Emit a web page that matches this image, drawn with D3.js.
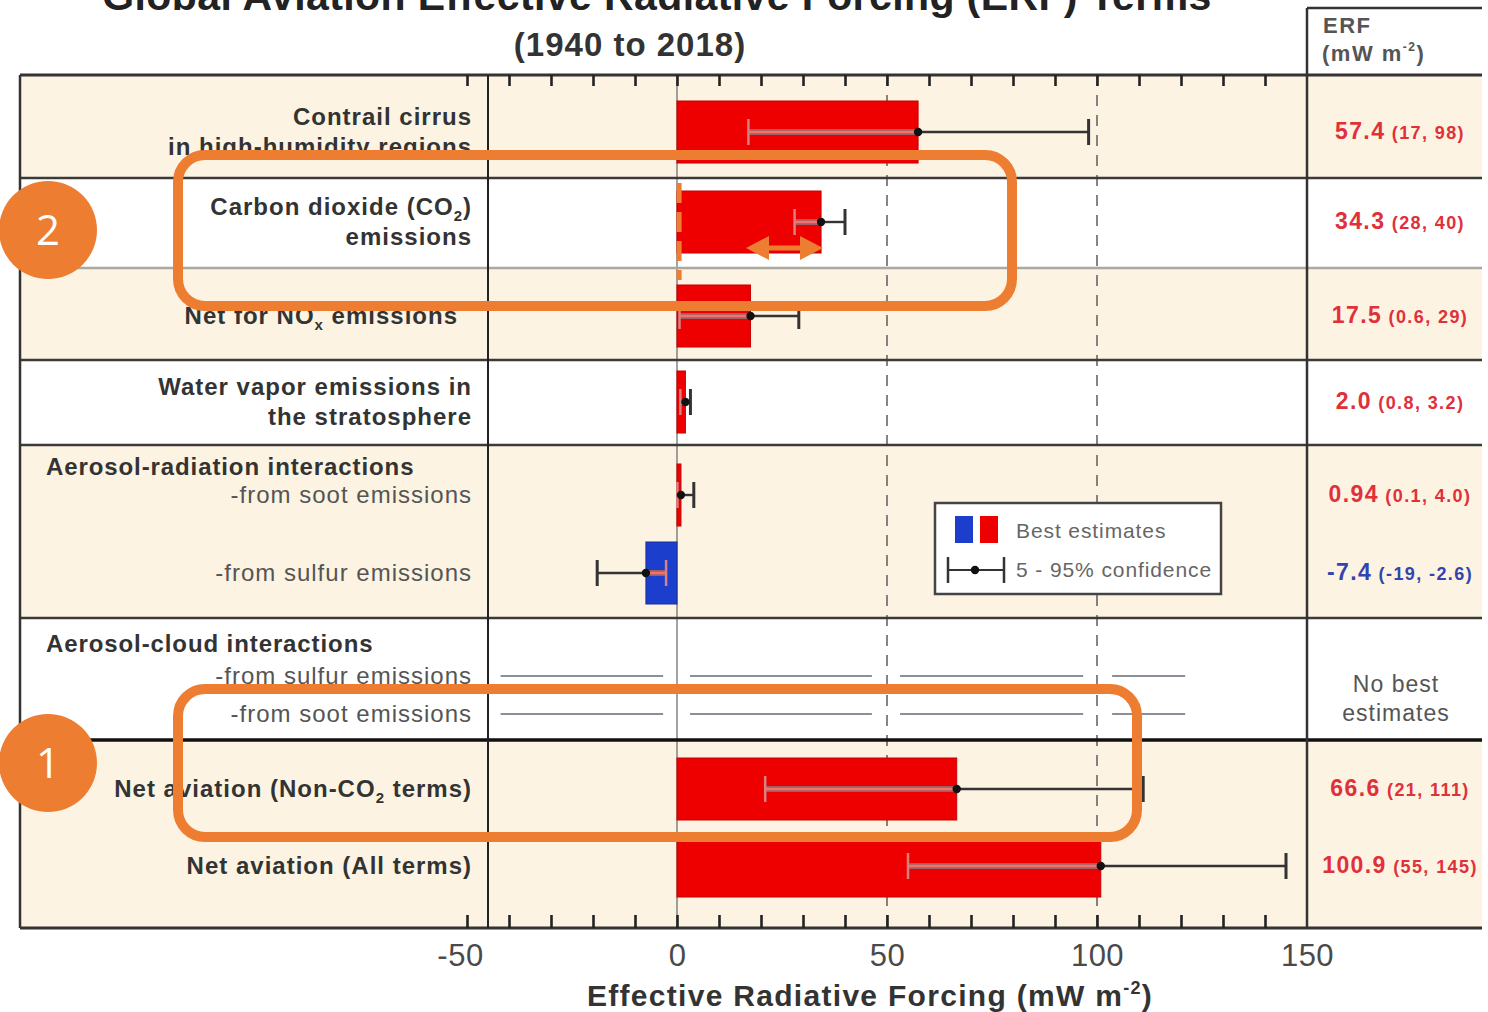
<!DOCTYPE html>
<html>
<head>
<meta charset="utf-8">
<script src="https://cdn.jsdelivr.net/npm/d3@7"></script>
<style>
  body { margin: 0; background: #ffffff; }
  svg { display: block; font-family: "Liberation Sans", Arial, Helvetica, sans-serif; }
</style>
</head>
<body>
<svg id="chart" width="1488" height="1012"></svg>
<script>
// ---- Data: aviation ERF terms, 1940-2018 (mW m-2) ----
const termKeys = ["contrail", "co2", "nox", "h2o", "soot", "sulfur", "acSulfur", "acSoot", "netNonCO2", "netAll"];
const bestEstimate = [57.4, 34.3, 17.5, 2.0, 0.94, -7.4, null, null, 66.6, 100.9];
const lower5 = [17, 28, 0.6, 0.8, 0.1, -19, null, null, 21, 55];
const upper95 = [98, 40, 29, 3.2, 4.0, -2.6, null, null, 111, 145];
const bestText = ["57.4", "34.3", "17.5", "2.0", "0.94", "-7.4", null, null, "66.6", "100.9"];
const rangeText = ["(17, 98)", "(28, 40)", "(0.6, 29)", "(0.8, 3.2)", "(0.1, 4.0)", "(-19, -2.6)", null, null, "(21, 111)", "(55, 145)"];
// label lines; segments marked "sub" are subscripts
const termLabels = [
  [[["Contrail cirrus"]], [["in high-humidity regions"]]],
  [[["Carbon dioxide (CO"], ["2", "sub"], [")"]], [["emissions"]]],
  [[["Net for NO"], ["x", "sub"], [" emissions"]]],
  [[["Water vapor emissions in"]], [["the stratosphere"]]],
  [[["-from soot emissions"]]],
  [[["-from sulfur emissions"]]],
  [[["-from sulfur emissions"]]],
  [[["-from soot emissions"]]],
  [[["Net aviation (Non-CO"], ["2", "sub"], [" terms)"]]],
  [[["Net aviation (All terms)"]]]
];
const groupHeaders = ["Aerosol-radiation interactions", "Aerosol-cloud interactions"];
const noEstimateText = ["No best", "estimates"];
const xTickValues = [-50, 0, 50, 100, 150];
const minorTickValues = d3.range(-50, 141, 10);
// rows without a best estimate: a broken dash across the axis
const unquantifiedSpans = [[-42, -3.3], [3.1, 46.4], [53.1, 96.7], [103.6, 121]];
const legendItems = ["Best estimates", "5 - 95% confidence"];

// ---- Layout ----
const frameL = 20, frameR = 1482, frameT = 75, frameB = 928;
const labelRight = 472;
const valueX = 1398;
const beige = "#fcf3e2";
const barRed = "#ee0000", barBlue = "#1b3fcc";
const labelInk = "#333333";
const orange = "#ED7D31";

const svg = d3.select("#chart");

const x = d3.scaleLinear().domain([-50, 150]).range([467, 1307]);
// row centre for each term
const y = d3.scaleOrdinal().domain(termKeys)
  .range([132, 222, 316, 402, 495, 573, 676, 714, 789, 866]);
const barH = 62;

// row bands (background shading)
const bands = [
  { y0: frameT, y1: 178, fill: beige },
  { y0: 178, y1: 268, fill: "#ffffff" },
  { y0: 268, y1: 360, fill: beige },
  { y0: 360, y1: 445, fill: "#ffffff" },
  { y0: 445, y1: 618, fill: beige },
  { y0: 618, y1: 740, fill: "#ffffff" },
  { y0: 740, y1: frameB, fill: beige }
];
svg.append("g").selectAll("rect").data(bands).join("rect")
  .attr("x", frameL).attr("y", d => d.y0)
  .attr("width", frameR - frameL).attr("height", d => d.y1 - d.y0)
  .attr("fill", d => d.fill);

// header cell of the value column
svg.append("rect").attr("x", x(150)).attr("y", 8).attr("width", frameR - x(150)).attr("height", frameT - 8).attr("fill", "#ffffff");

// grid lines
const grid = svg.append("g");
grid.append("line").attr("x1", x(0)).attr("x2", x(0)).attr("y1", frameT).attr("y2", frameB)
  .attr("stroke", "#666").attr("stroke-width", 1.2);
grid.selectAll("line.dash").data([50, 100]).join("line").attr("class", "dash")
  .attr("x1", d => x(d)).attr("x2", d => x(d)).attr("y1", frameT).attr("y2", frameB)
  .attr("stroke", "#666").attr("stroke-width", 1.6).attr("stroke-dasharray", "11,9");

// unquantified aerosol-cloud rows
const noEst = svg.append("g");
["acSulfur", "acSoot"].forEach(k => {
  noEst.selectAll(null).data(unquantifiedSpans).join("line")
    .attr("x1", d => x(d[0])).attr("x2", d => x(d[1]))
    .attr("y1", y(k)).attr("y2", y(k))
    .attr("stroke", "#8a8f9a").attr("stroke-width", 2);
});

// bars
const rows = termKeys.map((k, i) => ({ key: k, best: bestEstimate[i], lo: lower5[i], hi: upper95[i] }))
  .filter(d => d.best !== null);
svg.append("g").selectAll("rect").data(rows).join("rect")
  .attr("x", d => x(Math.min(0, d.best)))
  .attr("y", d => y(d.key) - barH / 2)
  .attr("width", d => Math.abs(x(d.best) - x(0)))
  .attr("height", barH)
  .attr("fill", d => d.best < 0 ? barBlue : barRed)
  .attr("stroke", d => d.best < 0 ? "#1a2f99" : "#c80000")
  .attr("stroke-width", 1);

// error bars: outside the bar a dark whisker, inside it a light double line
const capH = 26;
const eb = svg.append("g");
rows.forEach(d => {
  const cy = y(d.key);
  const b0 = Math.min(0, d.best), b1 = Math.max(0, d.best);
  const g = eb.append("g");
  const segs = [];
  if (d.lo < b0) segs.push([d.lo, Math.min(d.hi, b0)]);
  if (d.hi > b1) segs.push([Math.max(d.lo, b1), d.hi]);
  const inLo = Math.max(d.lo, b0), inHi = Math.min(d.hi, b1);
  if (inHi > inLo) {
    g.append("line").attr("x1", x(inLo)).attr("x2", x(inHi)).attr("y1", cy).attr("y2", cy)
      .attr("stroke", "#9c6060").attr("stroke-width", 6);
    g.append("line").attr("x1", x(inLo)).attr("x2", x(inHi)).attr("y1", cy).attr("y2", cy)
      .attr("stroke", "#f57070").attr("stroke-width", 2.5);
  }
  segs.forEach(s => {
    g.append("line").attr("x1", x(s[0])).attr("x2", x(s[1])).attr("y1", cy).attr("y2", cy)
      .attr("stroke", "#333").attr("stroke-width", 2.4);
  });
  [d.lo, d.hi].forEach(v => {
    const inside = v > b0 && v < b1;
    g.append("line").attr("x1", x(v)).attr("x2", x(v)).attr("y1", cy - capH / 2).attr("y2", cy + capH / 2)
      .attr("stroke", inside ? "#d98080" : "#333").attr("stroke-width", inside ? 2.5 : 3);
  });
  g.append("circle").attr("cx", x(d.best)).attr("cy", cy).attr("r", 4.2).attr("fill", "#111");
});

// separators and frame
const sep = svg.append("g");
[{ y: 178, c: "#3a3a3a", w: 2.5 }, { y: 268, c: "#a9a9a0", w: 2.5 }, { y: 360, c: "#3a3a3a", w: 2.5 },
 { y: 445, c: "#3a3a3a", w: 2.5 }, { y: 618, c: "#3a3a3a", w: 2.5 }, { y: 740, c: "#111", w: 3.5 }]
  .forEach(s => sep.append("line").attr("x1", frameL).attr("x2", frameR).attr("y1", s.y).attr("y2", s.y)
    .attr("stroke", s.c).attr("stroke-width", s.w));
sep.append("line").attr("x1", frameL).attr("x2", frameR).attr("y1", frameT).attr("y2", frameT)
  .attr("stroke", "#333").attr("stroke-width", 3);
sep.append("line").attr("x1", frameL).attr("x2", frameR).attr("y1", frameB).attr("y2", frameB)
  .attr("stroke", "#333").attr("stroke-width", 3);
sep.append("line").attr("x1", frameL).attr("x2", frameL).attr("y1", frameT).attr("y2", frameB)
  .attr("stroke", "#333").attr("stroke-width", 2.5);
sep.append("line").attr("x1", x(-45)).attr("x2", x(-45)).attr("y1", frameT).attr("y2", frameB)
  .attr("stroke", "#222").attr("stroke-width", 2);
sep.append("line").attr("x1", x(150)).attr("x2", x(150)).attr("y1", 8).attr("y2", frameB)
  .attr("stroke", "#333").attr("stroke-width", 2.5);
sep.append("line").attr("x1", x(150)).attr("x2", frameR).attr("y1", 8).attr("y2", 8)
  .attr("stroke", "#333").attr("stroke-width", 2.5);

// inward ticks on top and bottom edges
const topAxis = d3.axisBottom(x).tickValues(minorTickValues).tickSize(11).tickFormat("");
const botAxis = d3.axisTop(x).tickValues(minorTickValues).tickSize(13).tickFormat("");
const gTop = svg.append("g").attr("transform", `translate(0,${frameT})`).call(topAxis);
const gBot = svg.append("g").attr("transform", `translate(0,${frameB})`).call(botAxis);
[gTop, gBot].forEach(g => {
  g.select(".domain").remove();
  g.selectAll(".tick line").attr("stroke", "#222").attr("stroke-width", 2.6);
});

// tick labels under the frame
const labAxis = d3.axisBottom(x).tickValues(xTickValues).tickSize(0).tickPadding(0).tickFormat(d => String(d));
const gLab = svg.append("g").attr("transform", `translate(0,${frameB})`).call(labAxis);
gLab.select(".domain").remove();
gLab.attr("font-family", null);
gLab.selectAll(".tick text")
  .attr("y", 38).attr("dy", 0)
  .attr("font-size", 31).attr("fill", "#4a4a4a").attr("letter-spacing", 0.5);
gLab.selectAll(".tick").filter(d => d === -50).select("text").attr("dx", -7);

// axis title
const axT = svg.append("text").attr("x", 870).attr("y", 1006).attr("text-anchor", "middle")
  .attr("font-size", 30).attr("font-weight", "bold").attr("fill", "#333").attr("letter-spacing", 1.3);
axT.append("tspan").text("Effective Radiative Forcing  (mW m");
axT.append("tspan").attr("font-size", 18).attr("dy", -12).text("-2");
axT.append("tspan").attr("dy", 12).text(")");

// chart title (its upper part runs off the page)
svg.append("text").attr("x", 657).attr("y", 10).attr("text-anchor", "middle")
  .attr("font-size", 41).attr("font-weight", "bold").attr("fill", "#222").attr("letter-spacing", 0.4)
  .text("Global Aviation Effective Radiative Forcing (ERF) Terms");
svg.append("text").attr("x", 630).attr("y", 56).attr("text-anchor", "middle")
  .attr("font-size", 33).attr("font-weight", "bold").attr("fill", "#333").attr("letter-spacing", 1)
  .text("(1940 to 2018)");

// value column header
const hdr = svg.append("g").attr("font-size", 22).attr("font-weight", "bold").attr("fill", "#555").attr("letter-spacing", 1.5);
hdr.append("text").attr("x", 1323).attr("y", 33).text("ERF");
const hdr2 = hdr.append("text").attr("x", 1322).attr("y", 61);
hdr2.append("tspan").text("(mW m");
hdr2.append("tspan").attr("font-size", 12).attr("dy", -10).text("-2");
hdr2.append("tspan").attr("dy", 10).text(")");

// term labels
const regularKeys = new Set(["soot", "sulfur", "acSulfur", "acSoot"]);
const lbl = svg.append("g").attr("text-anchor", "end");
termKeys.forEach((k, i) => {
  const lines = termLabels[i];
  const regular = regularKeys.has(k);
  lines.forEach((segs, j) => {
    const off = lines.length === 2 ? (j === 0 ? -15 : 15) : 0;
    const t = lbl.append("text")
      .attr("x", k === "nox" ? labelRight - 14 : labelRight)
      .attr("y", y(k) + off + 8)
      .attr("font-size", 24).attr("letter-spacing", 1)
      .attr("font-weight", regular ? "normal" : "bold")
      .attr("fill", regular ? "#555" : labelInk);
    segs.forEach(s => {
      if (s[1] === "sub") {
        t.append("tspan").attr("font-size", 15).attr("dy", 6).text(s[0]);
      } else {
        const ts = t.append("tspan").text(s[0]);
        if (t.selectAll("tspan").size() > 1) ts.attr("dy", -6);
      }
    });
  });
});
// group headings
svg.append("g").attr("font-size", 24).attr("font-weight", "bold").attr("fill", labelInk).attr("letter-spacing", 0.9)
  .selectAll("text").data(groupHeaders).join("text")
  .attr("x", 46).attr("y", (d, i) => [475, 652][i]).text(d => d);

// value column
const vals = svg.append("g").attr("text-anchor", "middle").attr("font-weight", "bold").attr("letter-spacing", 1.4);
termKeys.forEach((k, i) => {
  if (bestText[i] === null) return;
  const t = vals.append("text").attr("x", valueX + 2).attr("y", y(k) + 7)
    .attr("fill", bestEstimate[i] < 0 ? "#3344b0" : "#e0303a");
  t.append("tspan").attr("font-size", 23).text(bestText[i]);
  t.append("tspan").attr("font-size", 18).text(" " + rangeText[i]);
});
svg.append("g").attr("text-anchor", "middle").attr("font-size", 23).attr("fill", "#555").attr("letter-spacing", 1)
  .selectAll("text").data(noEstimateText).join("text")
  .attr("x", 1396).attr("y", (d, i) => y("acSulfur") + 16 + i * 29).text(d => d);

// legend
const lg = svg.append("g");
lg.append("rect").attr("x", 935).attr("y", 503).attr("width", 286).attr("height", 91)
  .attr("fill", "#ffffff").attr("stroke", "#444").attr("stroke-width", 2.5);
lg.append("rect").attr("x", 955).attr("y", 516).attr("width", 18).attr("height", 27).attr("fill", barBlue);
lg.append("rect").attr("x", 980).attr("y", 516).attr("width", 18).attr("height", 27).attr("fill", barRed);
lg.append("line").attr("x1", 948).attr("x2", 1004).attr("y1", 570).attr("y2", 570).attr("stroke", "#333").attr("stroke-width", 2);
[948, 1004].forEach(cx => lg.append("line").attr("x1", cx).attr("x2", cx).attr("y1", 557).attr("y2", 583).attr("stroke", "#333").attr("stroke-width", 2.5));
lg.append("circle").attr("cx", 975).attr("cy", 570).attr("r", 4.2).attr("fill", "#111");
lg.selectAll("text").data(legendItems).join("text")
  .attr("x", 1016).attr("y", (d, i) => [538, 577][i])
  .attr("font-size", 21).attr("letter-spacing", 0.9).attr("fill", "#666").text(d => d);

// ---- Annotations ----
const ann = svg.append("g");
ann.append("rect").attr("x", 178).attr("y", 155).attr("width", 834).attr("height", 151).attr("rx", 27)
  .attr("fill", "none").attr("stroke", orange).attr("stroke-width", 10);
ann.append("rect").attr("x", 178).attr("y", 689).attr("width", 959).attr("height", 148).attr("rx", 27)
  .attr("fill", "none").attr("stroke", orange).attr("stroke-width", 10);
ann.append("line").attr("x1", x(0.5)).attr("x2", x(0.5)).attr("y1", 183).attr("y2", 280)
  .attr("stroke", orange).attr("stroke-width", 5).attr("stroke-dasharray", "20,9");
// double-headed arrow
const ay = 248, ax0 = 746, ax1 = 823, ah = 23, aw = 12;
ann.append("line").attr("x1", ax0 + ah - 2).attr("x2", ax1 - ah + 2).attr("y1", ay).attr("y2", ay)
  .attr("stroke", orange).attr("stroke-width", 5);
ann.append("path").attr("d", `M${ax0},${ay} L${ax0 + ah},${ay - aw} L${ax0 + ah},${ay + aw} Z`).attr("fill", orange);
ann.append("path").attr("d", `M${ax1},${ay} L${ax1 - ah},${ay - aw} L${ax1 - ah},${ay + aw} Z`).attr("fill", orange);
// numbered badges
[{ n: "2", cy: 230 }, { n: "1", cy: 763 }].forEach(b => {
  ann.append("circle").attr("cx", 48).attr("cy", b.cy).attr("r", 49).attr("fill", orange);
  ann.append("text").attr("x", 48).attr("y", b.cy + 15).attr("text-anchor", "middle")
    .attr("font-family", "'Open Sans', 'DejaVu Sans', sans-serif")
    .attr("font-size", 42).attr("fill", "#ffffff").text(b.n);
});
</script>
</body>
</html>
